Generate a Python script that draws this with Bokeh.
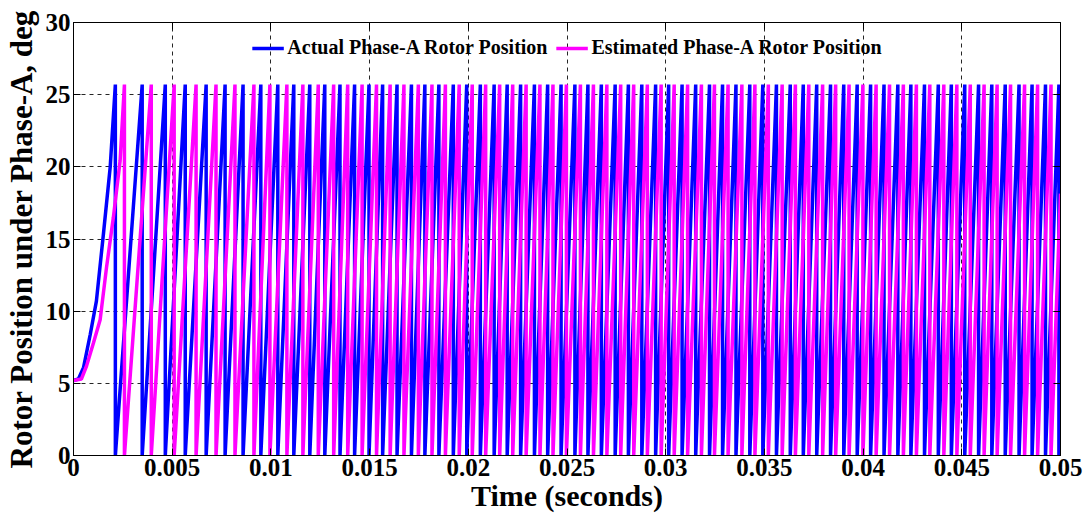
from bokeh.plotting import figure
from bokeh.models import (FixedTicker, CustomJSTickFormatter, LinearAxis, Legend, LegendItem,
                          CustomLabelingPolicy)
from bokeh.embed import file_html
from bokeh.resources import INLINE

# ---------------- data ----------------
x_ticks = [0, 0.005, 0.01, 0.015, 0.02, 0.025, 0.03, 0.035, 0.04, 0.045, 0.05]
x_tick_labels = ["0", "0.005", "0.01", "0.015", "0.02", "0.025", "0.03", "0.035", "0.04", "0.045", "0.05"]
y_ticks = [0, 5, 10, 15, 20, 25, 30]
y_tick_labels = ["0", "5", "10", "15", "20", "25", "30"]

peak_deg = 25.7  # value where each ramp wraps back to 0
t_end = 0.05

# start-up rise (time s, deg) before the first wrap
actual_start_t = [0.0, 0.00025, 0.00051, 0.00085, 0.00116, 0.00152, 0.00186, 0.00212]
actual_start_v = [5.2, 5.3, 6.1, 8.4, 10.7, 15.4, 20.0, 25.7]
est_start_t = [0.0, 0.0004, 0.00066, 0.00101, 0.00135, 0.00167, 0.00202, 0.00236, 0.00258]
est_start_v = [5.2, 5.3, 6.2, 7.8, 9.4, 13.0, 16.5, 20.4, 25.7]

# times at which each series wraps from ~25.7 deg back to 0 (s)
actual_wraps = [0.00212, 0.00348, 0.00465, 0.00566, 0.00672, 0.00768, 0.00859, 0.00949,
                0.01035, 0.01116, 0.01197, 0.01273, 0.01350, 0.01424, 0.01497, 0.01566,
                0.01639, 0.01712, 0.01780, 0.01851, 0.01924, 0.01992, 0.02061, 0.02131,
                0.02197, 0.02265, 0.02335, 0.02402, 0.02470, 0.02540, 0.02606, 0.02674,
                0.02744, 0.02811, 0.02879, 0.02949, 0.03015, 0.03083, 0.03152, 0.03222,
                0.03288, 0.03356, 0.03426, 0.03492, 0.03561, 0.03631, 0.03697, 0.03765,
                0.03835, 0.03902, 0.03970, 0.04038, 0.04106, 0.04176, 0.04242, 0.04311,
                0.04381, 0.04447, 0.04515, 0.04585, 0.04652, 0.04720, 0.04790, 0.04856,
                0.04924, 0.04992]
est_wraps = [0.00258, 0.00394, 0.00510, 0.00621, 0.00722, 0.00818, 0.00914, 0.00995,
             0.01081, 0.01162, 0.01240, 0.01318, 0.01389, 0.01462, 0.01535, 0.01604,
             0.01674, 0.01747, 0.01816, 0.01884, 0.01954, 0.02020, 0.02088, 0.02159,
             0.02225, 0.02293, 0.02363, 0.02429, 0.02497, 0.02568, 0.02634, 0.02702,
             0.02772, 0.02838, 0.02907, 0.02977, 0.03043, 0.03111, 0.03181, 0.03247,
             0.03316, 0.03386, 0.03452, 0.03520, 0.03590, 0.03657, 0.03725, 0.03795,
             0.03861, 0.03929, 0.03999, 0.04066, 0.04134, 0.04204, 0.04270, 0.04338,
             0.04409, 0.04475, 0.04543, 0.04613, 0.04679, 0.04747, 0.04818, 0.04884,
             0.04952]


def build(start_t, start_v, wraps):
    xs = list(start_t)
    ys = list(start_v)
    for i, w in enumerate(wraps):
        xs.append(w)
        ys.append(0.0)
        if i + 1 < len(wraps):
            xs.append(wraps[i + 1])
            ys.append(peak_deg)
        else:
            per = wraps[i] - wraps[i - 1]
            xs.append(t_end)
            ys.append(peak_deg * min(1.0, (t_end - w) / per))
    return xs, ys


ax, ay = build(actual_start_t, actual_start_v, actual_wraps)
ex, ey = build(est_start_t, est_start_v, est_wraps)

FONT = "Liberation Serif"

p = figure(width=1088, height=521, output_backend="svg", toolbar_location=None,
           x_range=(0, 0.05), y_range=(0, 30),
           min_border_left=70, min_border_right=28, min_border_top=22, min_border_bottom=66)
p.background_fill_color = "white"
p.border_fill_color = "white"
p.outline_line_color = "black"
p.outline_line_width = 1

r1 = p.line(ax, ay, line_color="#0000FF", line_width=3.5)
r2 = p.line(ex, ey, line_color="#FF00FF", line_width=3.5)

xtk = FixedTicker(ticks=x_ticks, minor_ticks=[])
ytk = FixedTicker(ticks=y_ticks, minor_ticks=[])
fmt_code = """
let b = 0;
for (let i = 0; i < tvals.length; i++) {
  if (Math.abs(tvals[i] - tick) < Math.abs(tvals[b] - tick)) b = i;
}
return tlabels[b];
"""
xfmt = CustomJSTickFormatter(args=dict(tvals=x_ticks, tlabels=x_tick_labels), code=fmt_code)
yfmt = CustomJSTickFormatter(args=dict(tvals=y_ticks, tlabels=y_tick_labels), code=fmt_code)

for axis, tk, fm in ((p.xaxis[0], xtk, xfmt), (p.yaxis[0], ytk, yfmt)):
    axis.ticker = tk
    axis.formatter = fm
    axis.major_label_text_font = FONT
    axis.major_label_text_font_style = "bold"
    axis.major_label_text_font_size = "25px"
    axis.major_label_text_color = "black"
    axis.major_tick_in = 7
    axis.major_tick_out = 0
    axis.minor_tick_line_color = None
    axis.axis_line_color = "black"
    axis.major_tick_line_color = "black"
    axis.axis_label_text_font = FONT
    axis.axis_label_text_font_style = "bold"
    axis.axis_label_text_color = "black"
    axis.major_label_standoff = 3

p.xaxis.axis_label = "Time (seconds)"
p.xaxis.axis_label_text_font_size = "30px"
p.xaxis.axis_label_standoff = 0
p.yaxis.axis_label = "Rotor Position under Phase-A, deg"
p.yaxis.axis_label_text_font_size = "31px"
p.yaxis.axis_label_standoff = 4

for loc, tk in (("above", xtk), ("right", ytk)):
    a = LinearAxis(ticker=tk)
    a.major_label_policy = CustomLabelingPolicy(code="return [];")
    a.major_label_standoff = 0
    a.major_tick_in = 7
    a.major_tick_out = 0
    a.minor_tick_line_color = None
    a.axis_line_color = "black"
    a.major_tick_line_color = "black"
    p.add_layout(a, loc)

p.xgrid.ticker = FixedTicker(ticks=x_ticks[1:-1])
p.ygrid.ticker = FixedTicker(ticks=y_ticks[1:-1])
for g in (p.xgrid[0], p.ygrid[0]):
    g.grid_line_color = "black"
    g.grid_line_dash = "4 4"
    g.grid_line_width = 1
    g.grid_line_alpha = 0.85

legend = Legend(items=[LegendItem(label="Actual Phase-A Rotor Position", renderers=[r1]),
                       LegendItem(label="Estimated Phase-A Rotor Position", renderers=[r2])],
                orientation="horizontal", location="top_center")
legend.label_text_font = FONT
legend.label_text_font_style = "bold"
legend.label_text_font_size = "20px"
legend.label_text_color = "black"
legend.glyph_width = 32
legend.label_standoff = 4
legend.spacing = 8
legend.margin = 10
legend.padding = 4
legend.border_line_alpha = 0
legend.background_fill_alpha = 0
p.add_layout(legend, "center")

open("out.html", "w").write(file_html(p, INLINE))
